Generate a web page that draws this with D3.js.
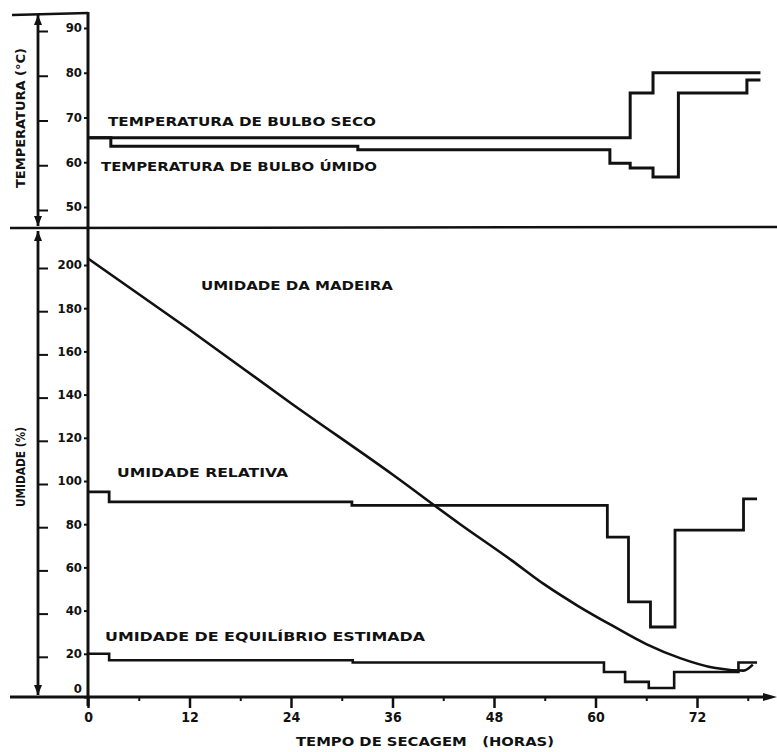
<!DOCTYPE html>
<html>
<head>
<meta charset="utf-8">
<script src="https://cdn.jsdelivr.net/npm/d3@7"></script>
<style>
  html, body { margin: 0; padding: 0; background: #fff; }
  svg { display: block; }
</style>
</head>
<body>
<svg id="chart" width="777" height="752"></svg>
<script>
// ---------- DATA ----------
const xTicks = [0, 12, 24, 36, 48, 60, 72];
const xMinorTicks = [6, 18, 30, 42, 54, 66, 78];
const tempTicks = [50, 60, 70, 80, 90];
const humTicks = [0, 20, 40, 60, 80, 100, 120, 140, 160, 180, 200];

const dryBulbHours = [0, 64.1, 66.8, 79.5];
const dryBulbTemp  = [65.5, 75.5, 80, 80];

const wetBulbHours = [0, 2.7, 31.9, 61.7, 64.1, 66.8, 69.8, 77.9, 79.5];
const wetBulbTemp  = [65.5, 63.6, 62.8, 59.8, 58.7, 56.7, 75.5, 78.4, 78.4];

const rhHours  = [0, 2.5, 31.2, 61.4, 63.9, 66.5, 69.4, 77.5, 79.1];
const rhValues = [95, 90.3, 88.7, 74, 44, 32.4, 77.3, 91.7, 91.7];

const emcHours  = [0, 2.5, 31.3, 61, 63.5, 66.3, 69.3, 76.9, 79.1];
const emcValues = [20, 17, 16, 11.6, 7, 4.2, 11.6, 16, 16];

const woodHours  = [0, 12, 24, 36, 44, 50, 54, 58, 62, 66, 70, 74, 77.5, 78.6];
const woodValues = [203, 170, 136, 103, 80, 63.5, 52, 42, 33, 24.5, 18, 13.5, 12.2, 15];

const labels = [
  {text: "TEMPERATURA DE BULBO SECO", x: 108, y: 126, w: 268},
  {text: "TEMPERATURA DE BULBO ÚMIDO", x: 101, y: 171, w: 276},
  {text: "UMIDADE DA MADEIRA", x: 201, y: 290, w: 192},
  {text: "UMIDADE RELATIVA", x: 117, y: 477, w: 171},
  {text: "UMIDADE DE EQUILÍBRIO ESTIMADA", x: 105, y: 641, w: 320}
];

// ---------- SCALES ----------
const svg = d3.select("#chart");
const x = d3.scaleLinear().domain([0, 72]).range([88, 697]);
const yT = d3.scaleLinear().domain([50, 90]).range([207, 28]);
const yH = d3.scaleLinear().domain([0, 200]).range([697, 265]);

const FONT = "'DejaVu Sans Condensed', 'DejaVu Sans', sans-serif";
const ink = "#111";

function zip(a, b) { return a.map((d, i) => [d, b[i]]); }

// ---------- FRAME ----------
const g = svg.append("g");
g.append("line").attr("x1", 12).attr("y1", 15).attr("x2", 88).attr("y2", 13)
  .attr("stroke", ink).attr("stroke-width", 2.5);
g.append("line").attr("x1", 10).attr("y1", 228).attr("x2", 777).attr("y2", 227)
  .attr("stroke", ink).attr("stroke-width", 2.5);
g.append("line").attr("x1", 10).attr("y1", yH(0)).attr("x2", 768).attr("y2", yH(0))
  .attr("stroke", ink).attr("stroke-width", 2.8);
g.append("path").attr("d", `M777,${yH(0)} L763,${yH(0)-4} L763,${yH(0)+4} Z`).attr("fill", ink);
g.append("line").attr("x1", 88).attr("y1", 12).attr("x2", 88).attr("y2", 706)
  .attr("stroke", ink).attr("stroke-width", 3);

function dimLine(y1, y2) {
  g.append("line").attr("x1", 38).attr("y1", y1).attr("x2", 38).attr("y2", y2)
    .attr("stroke", ink).attr("stroke-width", 2.8);
  g.append("path").attr("d", `M38,${y1} L34,${y1+10} L42,${y1+10} Z`).attr("fill", ink);
  g.append("path").attr("d", `M38,${y2} L34,${y2-10} L42,${y2-10} Z`).attr("fill", ink);
}
dimLine(15, 226);
dimLine(231, 695);

// ---------- AXES ----------
function styleAxis(sel) {
  sel.select(".domain").remove();
  sel.selectAll("line").attr("stroke", ink).attr("stroke-width", 2);
  sel.selectAll("text").attr("fill", ink).attr("font-family", FONT)
    .attr("font-weight", "bold");
}

const axT = g.append("g").attr("transform", "translate(88,0)")
  .call(d3.axisLeft(yT).tickValues(tempTicks).tickSize(4).tickPadding(2));
styleAxis(axT);
axT.selectAll("text").attr("font-size", 13).attr("dy", "0.3em");
g.append("g").attr("transform", "translate(38,3)")
  .call(d3.axisRight(yT).tickValues(tempTicks).tickSize(10).tickFormat(""))
  .call(styleAxis);

const axH = g.append("g").attr("transform", "translate(88,0)")
  .call(d3.axisLeft(yH).tickValues(humTicks).tickSize(4).tickPadding(2));
styleAxis(axH);
axH.selectAll("text").attr("font-size", 13).attr("dy", d => d === 0 ? "-0.35em" : "0.3em");
g.append("g").attr("transform", "translate(38,3)")
  .call(d3.axisRight(yH).tickValues(humTicks.filter(d => d > 0)).tickSize(10).tickFormat(""))
  .call(styleAxis);

const axX = g.append("g").attr("transform", `translate(0,${yH(0)})`)
  .call(d3.axisBottom(x).tickValues(xTicks).tickSize(11).tickPadding(4));
styleAxis(axX);
axX.selectAll("line").attr("stroke-width", 2.5);
axX.selectAll("text").attr("font-size", 14);
g.append("g").attr("transform", `translate(0,${yH(0)})`)
  .call(d3.axisBottom(x).tickValues(xMinorTicks).tickSize(4).tickFormat(""))
  .call(styleAxis);

g.append("text").attr("transform", "translate(25,118) rotate(-90)")
  .attr("text-anchor", "middle").attr("font-family", FONT).attr("font-weight", "bold")
  .attr("font-size", 12).attr("fill", ink).text("TEMPERATURA (°C)")
  .attr("textLength", 140).attr("lengthAdjust", "spacingAndGlyphs");
g.append("text").attr("transform", "translate(25,467) rotate(-90)")
  .attr("text-anchor", "middle").attr("font-family", FONT).attr("font-weight", "bold")
  .attr("font-size", 12).attr("fill", ink).text("UMIDADE (%)")
  .attr("textLength", 80).attr("lengthAdjust", "spacingAndGlyphs");
g.append("text").attr("x", 296).attr("y", 746)
  .attr("font-family", FONT).attr("font-weight", "bold")
  .attr("font-size", 13).attr("fill", ink).text("TEMPO DE SECAGEM   (HORAS)")
  .style("white-space", "pre")
  .attr("textLength", 258).attr("lengthAdjust", "spacingAndGlyphs");

// ---------- SERIES ----------
const stepT = d3.line().x(d => x(d[0])).y(d => yT(d[1])).curve(d3.curveStepAfter);
const stepH = d3.line().x(d => x(d[0])).y(d => yH(d[1])).curve(d3.curveStepAfter);
const smoothH = d3.line().x(d => x(d[0])).y(d => yH(d[1])).curve(d3.curveMonotoneX);

function drawPath(d, gen, w) {
  g.append("path").attr("d", gen(d)).attr("fill", "none").attr("stroke", ink)
    .attr("stroke-width", w).attr("stroke-linejoin", "miter");
}
drawPath(zip(dryBulbHours, dryBulbTemp), stepT, 3);
drawPath(zip(wetBulbHours, wetBulbTemp), stepT, 3);
drawPath(zip(rhHours, rhValues), stepH, 2.8);
drawPath(zip(emcHours, emcValues), stepH, 2.6);
drawPath(zip(woodHours, woodValues), smoothH, 2.6);

// ---------- LABELS ----------
g.selectAll("text.lbl").data(labels).enter().append("text").attr("class", "lbl")
  .attr("x", d => d.x).attr("y", d => d.y)
  .attr("font-family", FONT).attr("font-weight", "bold").attr("font-size", 13)
  .attr("fill", ink)
  .attr("textLength", d => d.w).attr("lengthAdjust", "spacingAndGlyphs")
  .text(d => d.text);
</script>
</body>
</html>
